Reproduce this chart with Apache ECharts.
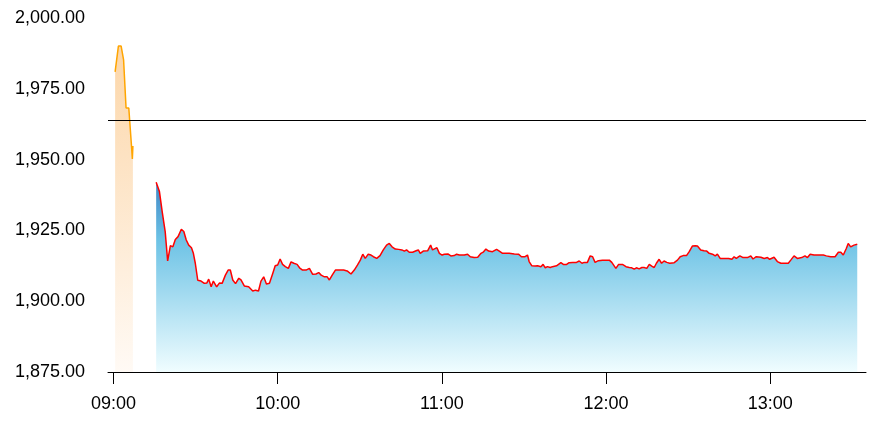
<!DOCTYPE html>
<html>
<head>
<meta charset="utf-8">
<script src="https://cdn.jsdelivr.net/npm/echarts@6/dist/echarts.min.js"></script>
<style>
html,body{margin:0;padding:0;background:#fff;}
#chart{width:873px;height:425px;}
</style>
</head>
<body>
<div id="chart"></div>
<script>
// minutes after 09:00 and prices
const preMinutes = [0.6, 1.8, 2.8, 3.7, 4.6, 5.6, 6.6, 6.9, 7.1];
const preValues = [1981.0, 1990.1, 1990.1, 1985.2, 1968.2, 1968.2, 1954.6, 1950.2, 1954.8];

const mainMinutes = [15.6,16.8,17.8,18.9,19.8,20.8,21.7,22.6,23.6,24.8,25.7,26.6,27.5,28.5,29.2,29.9,30.8,32.0,33.2,34.1,34.8,35.7,36.5,37.7,38.7,39.7,40.9,41.9,42.7,43.6,44.6,45.8,46.6,47.8,49.4,50.9,51.9,
53.0,53.9,54.9,55.9,57.0,58.2,59.1,60.0,60.9,61.8,62.8,63.9,64.9,65.9,67.1,68.0,69.1,70.4,71.6,72.8,74.0,75.0,75.9,77.1,78.1,78.9,80.1,81.1,82.5,84.1,85.4,86.8,88.0,89.2,90.2,91.1,92.0,93.1,94.1,
95.0,96.2,97.4,98.6,99.8,100.8,101.8,103.0,104.2,105.4,106.3,107.1,108.1,109.3,110.6,111.4,112.1,113.2,114.8,115.9,116.6,117.3,118.2,119.1,120.1,120.9,121.5,122.2,123.3,124.5,125.4,126.4,128.2,129.4,130.4,131.8,133.1,134.3,135.1,136.1,137.1,
138.5,140.0,141.0,142.2,143.4,144.6,145.3,146.5,148.0,149.1,150.4,151.3,151.9,152.9,154.1,155.0,155.6,156.2,157.0,157.8,158.6,159.6,160.4,161.1,161.9,162.6,163.5,164.4,165.6,166.5,167.8,169.2,170.2,171.2,172.0,173.2,174.2,175.1,176.0,177.2,178.7,181.2,182.1,
183.6,184.6,186.0,187.3,188.5,189.4,190.3,191.1,192.1,193.1,193.9,194.9,195.8,196.7,197.6,198.4,199.4,200.3,201.2,202.2,203.3,204.9,206.1,207.1,208.2,209.4,210.4,211.6,212.6,213.4,214.6,215.8,216.8,217.7,218.9,219.9,220.7,221.7,223.2,224.8,
226.0,226.8,227.6,228.9,230.1,231.7,232.9,233.7,234.9,236.6,237.8,239.0,239.8,241.4,242.6,243.9,245.1,246.6,247.5,248.7,249.9,251.5,252.7,253.6,254.6,256.0,257.9,259.4,260.5,262.1,263.7,264.9,265.8,266.7,267.8,268.5,269.4,270.6,271.8];

const mainValues = [1942.0,1938.7,1931.6,1924.6,1914.2,1919.6,1919.2,1921.8,1922.8,1925.4,1924.6,1921.6,1919.8,1918.9,1916.9,1913.4,1907.4,1907.1,1906.3,1906.4,1907.8,1905.1,1907.1,1905.1,1906.4,1906.3,1909.2,1911.0,1911.0,1907.5,1906.2,1908.1,1907.5,1905.4,1905.1,1903.6,1903.9,
1903.6,1907.1,1908.6,1906.1,1906.3,1909.8,1912.5,1912.8,1914.9,1913.0,1912.2,1911.6,1913.9,1913.4,1913.0,1911.8,1911.0,1911.0,1911.6,1909.5,1909.6,1910.1,1909.2,1908.6,1908.6,1907.5,1909.5,1911.0,1911.0,1911.0,1910.7,1909.6,1911.0,1912.8,1914.5,1916.6,1915.1,1916.6,1916.3,
1915.7,1915.1,1916.1,1918.1,1919.8,1920.4,1919.2,1918.4,1918.3,1918.1,1917.7,1918.1,1917.3,1917.3,1917.8,1918.1,1916.9,1917.7,1917.8,1919.8,1918.1,1918.3,1918.9,1916.9,1916.3,1916.6,1916.0,1916.7,1916.0,1916.1,1916.6,1916.3,1916.3,1916.6,1915.7,1915.4,1915.5,1916.9,1917.3,1918.4,1917.7,
1917.5,1918.3,1917.7,1916.9,1916.9,1916.9,1917.3,1916.7,1916.6,1915.7,1915.7,1916.3,1914.0,1912.5,1912.4,1912.5,1913.1,1912.2,1913.0,1911.8,1912.2,1911.9,1912.2,1911.8,1912.5,1911.9,1913.6,1913.0,1913.0,1913.6,1913.7,1913.7,1914.2,1913.4,1913.7,1913.7,1916.0,1915.7,1913.7,1914.3,1914.5,1914.5,1913.7,
1911.6,1913.0,1913.0,1912.2,1911.9,1911.8,1911.3,1911.8,1911.4,1911.9,1911.9,1911.6,1913.0,1912.4,1911.9,1913.4,1914.8,1913.4,1914.2,1913.7,1913.4,1913.6,1914.5,1915.7,1916.1,1916.1,1917.5,1919.5,1919.6,1919.5,1918.1,1917.8,1917.7,1916.9,1916.6,1916.0,1916.6,1915.1,1915.1,1915.1,
1914.8,1915.7,1915.1,1916.0,1915.4,1915.4,1916.0,1914.9,1915.7,1915.5,1915.1,1915.4,1914.8,1915.5,1914.0,1913.4,1913.4,1913.4,1914.5,1916.0,1915.1,1915.4,1916.0,1915.4,1916.6,1916.3,1916.3,1916.3,1916.0,1915.7,1915.7,1917.3,1917.3,1916.3,1918.6,1920.4,1919.2,1919.8,1920.1];

const referenceLevel = 1964.0;
const yMin = 1875, yMax = 2000, yStep = 25;
const xStartMinute = -2, xEndMinute = 275;

const base = new Date(2024, 0, 2, 9, 0, 0).getTime();
const toTime = m => base + m * 60000;
const pad = n => (n < 10 ? '0' : '') + n;

const preData = preMinutes.map((m, i) => [toTime(m), preValues[i]]);
const mainData = mainMinutes.map((m, i) => [toTime(m), mainValues[i]]);

const font = 'Liberation Sans, Arial, Helvetica, sans-serif';
const chart = echarts.init(document.getElementById('chart'));
chart.setOption({
  animation: false,
  grid: { left: 108, right: 7, top: 18, bottom: 53, containLabel: false, outerBoundsMode: 'none' },
  xAxis: {
    type: 'time',
    min: toTime(xStartMinute),
    max: toTime(xEndMinute),
    minInterval: 3600000,
    maxInterval: 3600000,
    splitLine: { show: false },
    axisLine: { show: true, lineStyle: { color: '#000', width: 1 } },
    axisTick: { show: true, length: 12, lineStyle: { color: '#000', width: 1 } },
    axisLabel: {
      color: '#000', fontSize: 18, fontFamily: font, margin: 23,
      hideOverlap: false,
      formatter: v => { const d = new Date(v); return pad(d.getHours()) + ':' + pad(d.getMinutes()); }
    }
  },
  yAxis: {
    type: 'value',
    min: yMin, max: yMax, interval: yStep,
    splitLine: { show: false },
    axisLine: { show: false },
    axisTick: { show: false },
    axisLabel: {
      color: '#000', fontSize: 18, fontFamily: font, margin: 23,
      formatter: v => v.toLocaleString('en-US', { minimumFractionDigits: 2, maximumFractionDigits: 2 })
    }
  },
  series: [
    {
      type: 'line',
      data: preData,
      showSymbol: false,
      symbol: 'none',
      lineStyle: { color: '#ffa500', width: 1.5 },
      areaStyle: {
        opacity: 1,
        color: new echarts.graphic.LinearGradient(0, 0, 0, 1, [
          { offset: 0, color: '#fcd6a8' },
          { offset: 1, color: '#fffaf5' }
        ])
      }
    },
    {
      type: 'line',
      data: mainData,
      showSymbol: false,
      symbol: 'none',
      lineStyle: { color: '#ff0000', width: 1.5 },
      areaStyle: {
        opacity: 1,
        color: new echarts.graphic.LinearGradient(0, 0, 0, 1, [
          { offset: 0, color: '#3f86c6' },
          { offset: 0.3, color: '#6cc2e5' },
          { offset: 1, color: '#f0fdff' }
        ])
      },
      markLine: {
        silent: true,
        symbol: 'none',
        label: { show: false },
        lineStyle: { color: '#000', type: 'solid', width: 1 },
        data: [{ yAxis: referenceLevel }]
      }
    }
  ]
});
</script>
</body>
</html>
